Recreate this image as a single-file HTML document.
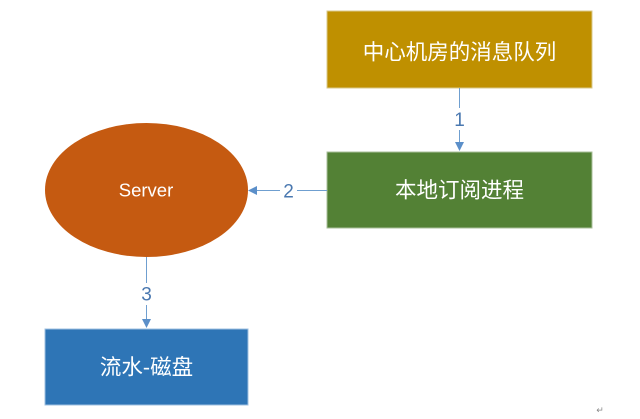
<!DOCTYPE html>
<html><head><meta charset="utf-8"><style>
html,body{margin:0;padding:0;background:#fff;}
svg{display:block;}
</style></head><body>
<svg width="640" height="419" viewBox="0 0 640 419" xmlns="http://www.w3.org/2000/svg">
<rect width="640" height="419" fill="#ffffff"/>
<!-- top box -->
<rect x="327" y="11" width="265" height="77" fill="#BF9000" stroke="#d9c88a" stroke-width="1"/>
<text x="459.5" y="59.5" font-family="'Liberation Sans','Noto Sans CJK SC',sans-serif" font-size="21.5" fill="#fff" text-anchor="middle">中心机房的消息队列</text>
<!-- green box -->
<rect x="327" y="152" width="265" height="76" fill="#538135" stroke="#a9bf9a" stroke-width="1"/>
<text x="459.5" y="197.5" font-family="'Liberation Sans','Noto Sans CJK SC',sans-serif" font-size="21.5" fill="#fff" text-anchor="middle">本地订阅进程</text>
<!-- ellipse -->
<ellipse cx="146.5" cy="190" rx="101.5" ry="67" fill="#C55A11"/>
<text x="146" y="196.5" font-family="'Liberation Sans','DejaVu Sans',sans-serif" font-size="18.5" fill="#fff" text-anchor="middle">Server</text>
<!-- blue box -->
<rect x="45" y="329" width="203" height="76" fill="#2E75B6" stroke="#9fc0e0" stroke-width="1"/>
<text x="146.5" y="374.5" font-family="'Liberation Sans','Noto Sans CJK SC',sans-serif" font-size="21.5" fill="#fff" text-anchor="middle">流水-磁盘</text>
<!-- arrow 1 -->
<line x1="459.5" y1="88" x2="459.5" y2="108" stroke="#6f9fd0" stroke-width="1"/>
<line x1="459.5" y1="130" x2="459.5" y2="143" stroke="#6f9fd0" stroke-width="1"/>
<polygon points="455,142 464,142 459.5,151" fill="#5b8fc9"/>
<text x="459.5" y="126" font-family="'Liberation Sans','DejaVu Sans',sans-serif" font-size="19" fill="#4a78b0" text-anchor="middle">1</text>
<!-- arrow 2 -->
<line x1="327" y1="190.5" x2="297" y2="190.5" stroke="#6f9fd0" stroke-width="1"/>
<line x1="280" y1="190.5" x2="257" y2="190.5" stroke="#6f9fd0" stroke-width="1"/>
<polygon points="248,190.5 257,186 257,195" fill="#5b8fc9"/>
<text x="288.5" y="197.5" font-family="'Liberation Sans','DejaVu Sans',sans-serif" font-size="19" fill="#4a78b0" text-anchor="middle">2</text>
<!-- arrow 3 -->
<line x1="146.5" y1="257" x2="146.5" y2="283" stroke="#6f9fd0" stroke-width="1"/>
<line x1="146.5" y1="305" x2="146.5" y2="320" stroke="#6f9fd0" stroke-width="1"/>
<polygon points="142,319 151,319 146.5,328" fill="#5b8fc9"/>
<text x="146.5" y="300.5" font-family="'Liberation Sans','DejaVu Sans',sans-serif" font-size="19" fill="#4a78b0" text-anchor="middle">3</text>
<!-- return mark -->
<text x="600" y="413" font-family="'DejaVu Sans',sans-serif" font-size="9" fill="#888" text-anchor="middle">↵</text>
</svg>
</body></html>
